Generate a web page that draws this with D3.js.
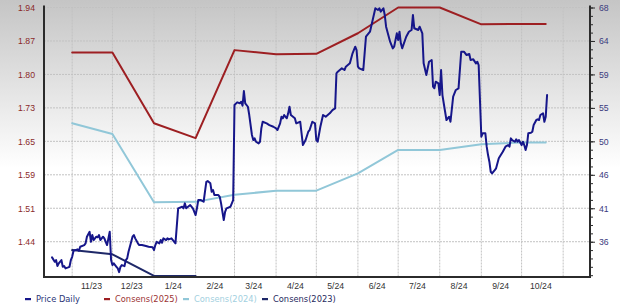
<!DOCTYPE html>
<html lang="en">
<head>
<meta charset="utf-8">
<style>
  body { margin: 0; background: #fff; }
  svg { display: block; font-family: "DejaVu Sans", Verdana, sans-serif; }
  .grid line { stroke: #c2c2c2; stroke-width: 1; stroke-dasharray: 2,1; }
  .line { fill: none; stroke-width: 2; stroke-linejoin: round; stroke-linecap: round; }
  .axis .domain { stroke: #2b2b2b; stroke-width: 2; }
  .axis line { stroke: #2b2b2b; }
</style>
</head>
<body>
<svg width="620" height="306"></svg>
<script src="https://d3js.org/d3.v7.min.js"></script>
<script>
// tick labels as printed on the chart
const leftTickLabels  = ["1.94", "1.87", "1.80", "1.73", "1.65", "1.59", "1.51", "1.44"];
const rightTickLabels = ["68", "64", "59", "55", "50", "46", "41", "36"];
const monthLabels = ["11/23", "12/23", "1/24", "2/24", "3/24", "4/24", "5/24", "6/24", "7/24", "8/24", "9/24", "10/24"];
const monthStarts = ["2023-11-01", "2023-12-01", "2024-01-01", "2024-02-01", "2024-03-01", "2024-04-01",
                     "2024-05-01", "2024-06-01", "2024-07-01", "2024-08-01", "2024-09-01", "2024-10-01", "2024-11-01"];

// monthly EPS consensus (left axis)
const consensDates = ["2023-11-01", "2023-12-01", "2024-01-01", "2024-02-01", "2024-03-01", "2024-04-01",
                      "2024-05-01", "2024-06-01", "2024-07-01", "2024-08-01", "2024-09-01", "2024-10-01", "2024-10-19"];
const consens2025 = [1.844, 1.844, 1.693, 1.661, 1.849, 1.840, 1.841, 1.885, 1.940, 1.940, 1.904, 1.905, 1.905];
const consens2024 = [1.693, 1.670, 1.524, 1.525, 1.540, 1.549, 1.549, 1.586, 1.636, 1.636, 1.648, 1.652, 1.652];
const consens2023Dates = ["2023-11-01", "2023-12-01", "2024-01-01", "2024-02-01"];
const consens2023 = [1.422, 1.413, 1.367, 1.367];

// daily price (right axis)
const priceDaily = [
  ["2023-10-17",33.86],["2023-10-19",33.26],["2023-10-20",33.49],["2023-10-21",32.67],["2023-10-22",33.04],["2023-10-24",33.49],
  ["2023-10-25",32.58],["2023-10-26",32.67],["2023-10-27",32.36],["2023-10-29",32.50],["2023-10-30",32.58],["2023-10-31",33.49],
  ["2023-11-01",33.94],["2023-11-02",34.76],["2023-11-05",34.96],["2023-11-06",34.76],["2023-11-07",35.31],["2023-11-10",35.54],
  ["2023-11-11",35.78],["2023-11-12",36.68],["2023-11-14",37.36],["2023-11-15",35.99],["2023-11-16",36.91],["2023-11-17",36.23],
  ["2023-11-19",36.68],["2023-11-20",36.60],["2023-11-21",36.91],["2023-11-22",36.23],["2023-11-24",36.68],["2023-11-25",36.46],
  ["2023-11-26",35.99],["2023-11-27",35.54],["2023-11-29",37.36],["2023-11-30",33.49],
  ["2023-12-01",32.81],["2023-12-02",33.04],["2023-12-04",32.58],["2023-12-05",32.36],["2023-12-06",31.85],["2023-12-07",32.58],
  ["2023-12-08",32.81],["2023-12-10",32.67],["2023-12-11",33.49],["2023-12-12",33.73],["2023-12-13",34.63],["2023-12-15",35.99],
  ["2023-12-16",36.68],["2023-12-17",36.91],["2023-12-18",36.46],["2023-12-20",35.78],["2023-12-21",35.54],["2023-12-23",35.54],
  ["2023-12-26",35.41],["2023-12-28",35.31],["2023-12-31",35.23],
  ["2024-01-01",34.86],["2024-01-02",35.54],["2024-01-03",35.99],["2024-01-05",35.78],["2024-01-06",36.23],["2024-01-07",35.86],
  ["2024-01-08",36.46],["2024-01-10",36.23],["2024-01-11",36.46],["2024-01-12",36.32],["2024-01-14",36.46],["2024-01-17",35.78],
  ["2024-01-19",40.56],["2024-01-22",40.78],["2024-01-23",40.56],["2024-01-24",41.24],["2024-01-25",40.56],["2024-01-28",41.01],
  ["2024-01-30",40.56],
  ["2024-02-01",39.64],["2024-02-02",40.56],["2024-02-03",41.69],["2024-02-05",41.69],["2024-02-07",41.46],["2024-02-08",42.83],
  ["2024-02-09",44.19],["2024-02-10",44.29],["2024-02-12",43.98],["2024-02-13",42.83],["2024-02-14",43.06],["2024-02-15",42.38],
  ["2024-02-18",42.38],["2024-02-19",42.14],["2024-02-20",41.24],["2024-02-22",38.96],["2024-02-23",40.09],["2024-02-24",40.56],
  ["2024-02-27",40.78],["2024-02-28",41.24],["2024-02-29",41.69],
  ["2024-03-01",54.68],["2024-03-03",55.04],["2024-03-05",54.91],["2024-03-06",55.13],["2024-03-07",54.58],["2024-03-08",56.59],
  ["2024-03-09",54.91],["2024-03-11",54.44],["2024-03-12",53.31],["2024-03-14",50.58],["2024-03-15",49.89],["2024-03-16",50.12],
  ["2024-03-17",49.66],["2024-03-19",49.44],["2024-03-20",49.66],["2024-03-21",51.49],["2024-03-22",52.39],["2024-03-25",52.17],
  ["2024-03-27",51.94],["2024-03-30",51.71],
  ["2024-04-01",51.49],["2024-04-02",51.26],["2024-04-04",52.17],["2024-04-05",53.08],["2024-04-06",52.86],["2024-04-07",53.31],
  ["2024-04-09",52.86],["2024-04-10",53.54],["2024-04-11",54.44],["2024-04-12",53.31],["2024-04-15",52.86],["2024-04-16",52.17],
  ["2024-04-19",52.39],["2024-04-20",50.81],["2024-04-21",49.21],["2024-04-23",49.89],["2024-04-25",51.03],["2024-04-26",51.26],
  ["2024-04-28",52.39],["2024-04-30",52.17],
  ["2024-05-01",49.89],["2024-05-02",49.66],["2024-05-04",51.71],["2024-05-06",53.31],["2024-05-08",53.08],["2024-05-11",53.54],
  ["2024-05-13",53.99],["2024-05-15",54.22],["2024-05-16",59.01],["2024-05-17",59.23],["2024-05-20",59.69],["2024-05-22",59.46],
  ["2024-05-23",59.91],["2024-05-26",60.37],["2024-05-27",61.06],["2024-05-28",61.74],["2024-05-30",62.64],["2024-05-31",62.19],
  ["2024-06-01",59.91],["2024-06-02",59.69],["2024-06-05",59.46],["2024-06-06",61.74],["2024-06-07",64.01],["2024-06-10",64.69],
  ["2024-06-12",66.29],["2024-06-14",67.89],["2024-06-16",67.66],["2024-06-17",67.89],["2024-06-18",67.43],["2024-06-20",67.89],
  ["2024-06-21",66.98],["2024-06-22",65.38],["2024-06-25",63.33],["2024-06-27",62.42],["2024-06-28",62.64],["2024-06-30",64.47],
  ["2024-07-01",63.56],["2024-07-02",64.69],["2024-07-03",63.11],["2024-07-04",62.42],["2024-07-07",64.01],["2024-07-09",64.69],
  ["2024-07-11",64.93],["2024-07-12",66.98],["2024-07-13",65.16],["2024-07-16",64.93],["2024-07-17",65.38],["2024-07-19",64.47],
  ["2024-07-20",60.37],["2024-07-22",58.78],["2024-07-24",60.59],["2024-07-26",60.83],["2024-07-27",57.18],["2024-07-28",56.96],
  ["2024-07-29",57.86],["2024-07-31",57.64],
  ["2024-08-01",56.04],["2024-08-02",59.46],["2024-08-03",56.04],["2024-08-05",53.76],["2024-08-06",52.63],["2024-08-08",53.08],
  ["2024-08-09",52.39],["2024-08-11",55.81],["2024-08-13",56.73],["2024-08-15",56.96],["2024-08-17",61.96],["2024-08-19",61.96],
  ["2024-08-21",61.51],["2024-08-23",61.65],["2024-08-24",60.83],["2024-08-26",60.92],["2024-08-28",60.37],["2024-08-29",60.59],
  ["2024-08-30",60.14],
  ["2024-09-01",50.34],["2024-09-02",50.81],["2024-09-04",50.81],["2024-09-05",48.98],["2024-09-06",47.84],["2024-09-07",46.93],
  ["2024-09-08",45.56],["2024-09-09",45.34],["2024-09-11",45.79],["2024-09-12",46.03],["2024-09-14",47.39],["2024-09-17",48.29],
  ["2024-09-19",48.98],["2024-09-21",49.21],["2024-09-22",48.98],["2024-09-23",50.12],["2024-09-24",49.89],["2024-09-26",49.66],
  ["2024-09-27",49.99],["2024-09-28",49.66],["2024-09-29",49.89],
  ["2024-10-01",49.21],["2024-10-02",49.66],["2024-10-03",49.21],["2024-10-04",48.53],["2024-10-05",49.21],["2024-10-06",50.81],
  ["2024-10-08",50.89],["2024-10-09",51.03],["2024-10-10",51.94],["2024-10-12",52.63],["2024-10-13",52.72],["2024-10-14",52.63],
  ["2024-10-15",53.31],["2024-10-17",53.54],["2024-10-18",52.39],["2024-10-19",53.08],["2024-10-20",56.04]
];

const parseDate = d3.timeParse("%Y-%m-%d");

const plotLeft = 44, plotRight = 590, plotTop = 7.5, plotBottom = 277;

const svg = d3.select("svg");

// background fade, grey at the top to white
const defs = svg.append("defs");
const grad = defs.append("linearGradient")
  .attr("id", "bg").attr("x1", 0).attr("y1", 0).attr("x2", 0).attr("y2", 1);
grad.append("stop").attr("offset", "0%").attr("stop-color", "#c5c5c5");
grad.append("stop").attr("offset", "55%").attr("stop-color", "#ffffff");
svg.append("rect").attr("width", 620).attr("height", 306).attr("fill", "url(#bg)");

defs.append("clipPath").attr("id", "plot")
  .append("rect").attr("x", plotLeft).attr("y", 0)
  .attr("width", plotRight - plotLeft).attr("height", plotBottom);

const x = d3.scaleTime()
  .domain([new Date(2023, 9, 11), new Date(2024, 10, 21)])
  .range([plotLeft, plotRight]);

// eight evenly spaced gridlines, top one on 1.94 / 68, bottom one on 1.44 / 36
const yL = d3.scaleLinear().domain([1.3646, 1.94]).range([plotBottom, plotTop]);
const yR = d3.scaleLinear().domain([31.18, 68]).range([plotBottom, plotTop]);
const leftTicks = leftTickLabels.map((d, i) => 1.94 - i * 0.5 / 7);
const rightTicks = rightTickLabels.map((d, i) => 68 - i * 32 / 7);
const minorTicks = d3.range(0, 33).map(i => 68 - i * 8 / 7).filter(v => v > 31.18);

// grid
const grid = svg.append("g").attr("class", "grid");
grid.selectAll(".h").data(rightTicks).join("line")
  .attr("x1", plotLeft).attr("x2", plotRight)
  .attr("y1", d => yR(d)).attr("y2", d => yR(d));
grid.selectAll(".v").data(monthStarts.map(parseDate)).join("line")
  .attr("x1", d => x(d)).attr("x2", d => x(d))
  .attr("y1", plotTop).attr("y2", plotBottom);

// lines
const plot = svg.append("g").attr("clip-path", "url(#plot)");

const lineL = d3.line().x(d => x(d[0])).y(d => yL(d[1]));
const lineR = d3.line().x(d => x(d[0])).y(d => yR(d[1]));

plot.append("path").attr("class", "line")
  .attr("stroke", "#91c7d8")
  .attr("d", lineL(consensDates.map((d, i) => [parseDate(d), consens2024[i]])));

plot.append("path").attr("class", "line")
  .attr("stroke", "#9d1f22")
  .attr("d", lineL(consensDates.map((d, i) => [parseDate(d), consens2025[i]])));

plot.append("path").attr("class", "line")
  .attr("stroke", "#1e2868")
  .attr("d", lineL(consens2023Dates.map((d, i) => [parseDate(d), consens2023[i]])));

plot.append("path").attr("class", "line")
  .attr("stroke", "#16168a")
  .attr("d", lineR(priceDaily.map(d => [parseDate(d[0]), d[1]])));

// axes
const axL = svg.append("g").attr("class", "axis")
  .attr("transform", `translate(${plotLeft},0)`)
  .call(d3.axisLeft(yL).tickValues(leftTicks).tickSize(0).tickSizeOuter(0).tickPadding(9)
    .tickFormat((d, i) => leftTickLabels[i]));
axL.selectAll("text").attr("fill", "#8a2a2a").style("font-size", "8.7px");
axL.select(".domain").attr("d", `M0,${plotTop - 2}V${plotBottom}`);

svg.append("g").attr("class", "axis")
  .attr("transform", `translate(${plotRight},0)`)
  .call(d3.axisRight(yR).tickValues(minorTicks).tickSize(3).tickSizeOuter(0).tickFormat(""))
  .select(".domain").remove();

const axR = svg.append("g").attr("class", "axis")
  .attr("transform", `translate(${plotRight},0)`)
  .call(d3.axisRight(yR).tickValues(rightTicks).tickSize(5).tickSizeOuter(0).tickPadding(4)
    .tickFormat((d, i) => rightTickLabels[i]));
axR.selectAll("text").attr("fill", "#3b3b7e").style("font-size", "8.7px");
axR.select(".domain").attr("d", `M0,${plotTop - 2}V${plotBottom}`);

const midMonths = monthStarts.slice(0, 12).map(d => d3.timeDay.offset(parseDate(d), 14));
const axB = svg.append("g").attr("class", "axis")
  .attr("transform", `translate(0,${plotBottom})`)
  .call(d3.axisBottom(x).tickValues(midMonths).tickSize(0).tickSizeOuter(0).tickPadding(6)
    .tickFormat((d, i) => monthLabels[i]));
axB.selectAll("text").attr("fill", "#333").style("font-size", "8.7px");
axB.select(".domain").attr("d", `M${plotLeft - 1},0H${plotRight + 1}`);

// legend
const legendItems = [
  { name: "Price Daily",   color: "#16168a", text: "#2a3576", x: 25 },
  { name: "Consens(2025)", color: "#9d1f22", text: "#9c3434", x: 104 },
  { name: "Consens(2024)", color: "#91c7d8", text: "#a3d0e0", x: 183 },
  { name: "Consens(2023)", color: "#1e2868", text: "#1f2a5e", x: 262 }
];
const legend = svg.append("g").selectAll("g").data(legendItems).join("g")
  .attr("transform", d => `translate(${d.x},299)`);
legend.append("rect").attr("x", 0).attr("y", -1).attr("width", 6).attr("height", 2.2)
  .attr("fill", d => d.color);
legend.append("text").attr("x", 11).attr("y", 3)
  .style("font-size", "8.3px").attr("fill", d => d.text)
  .text(d => d.name);
</script>
</body>
</html>
